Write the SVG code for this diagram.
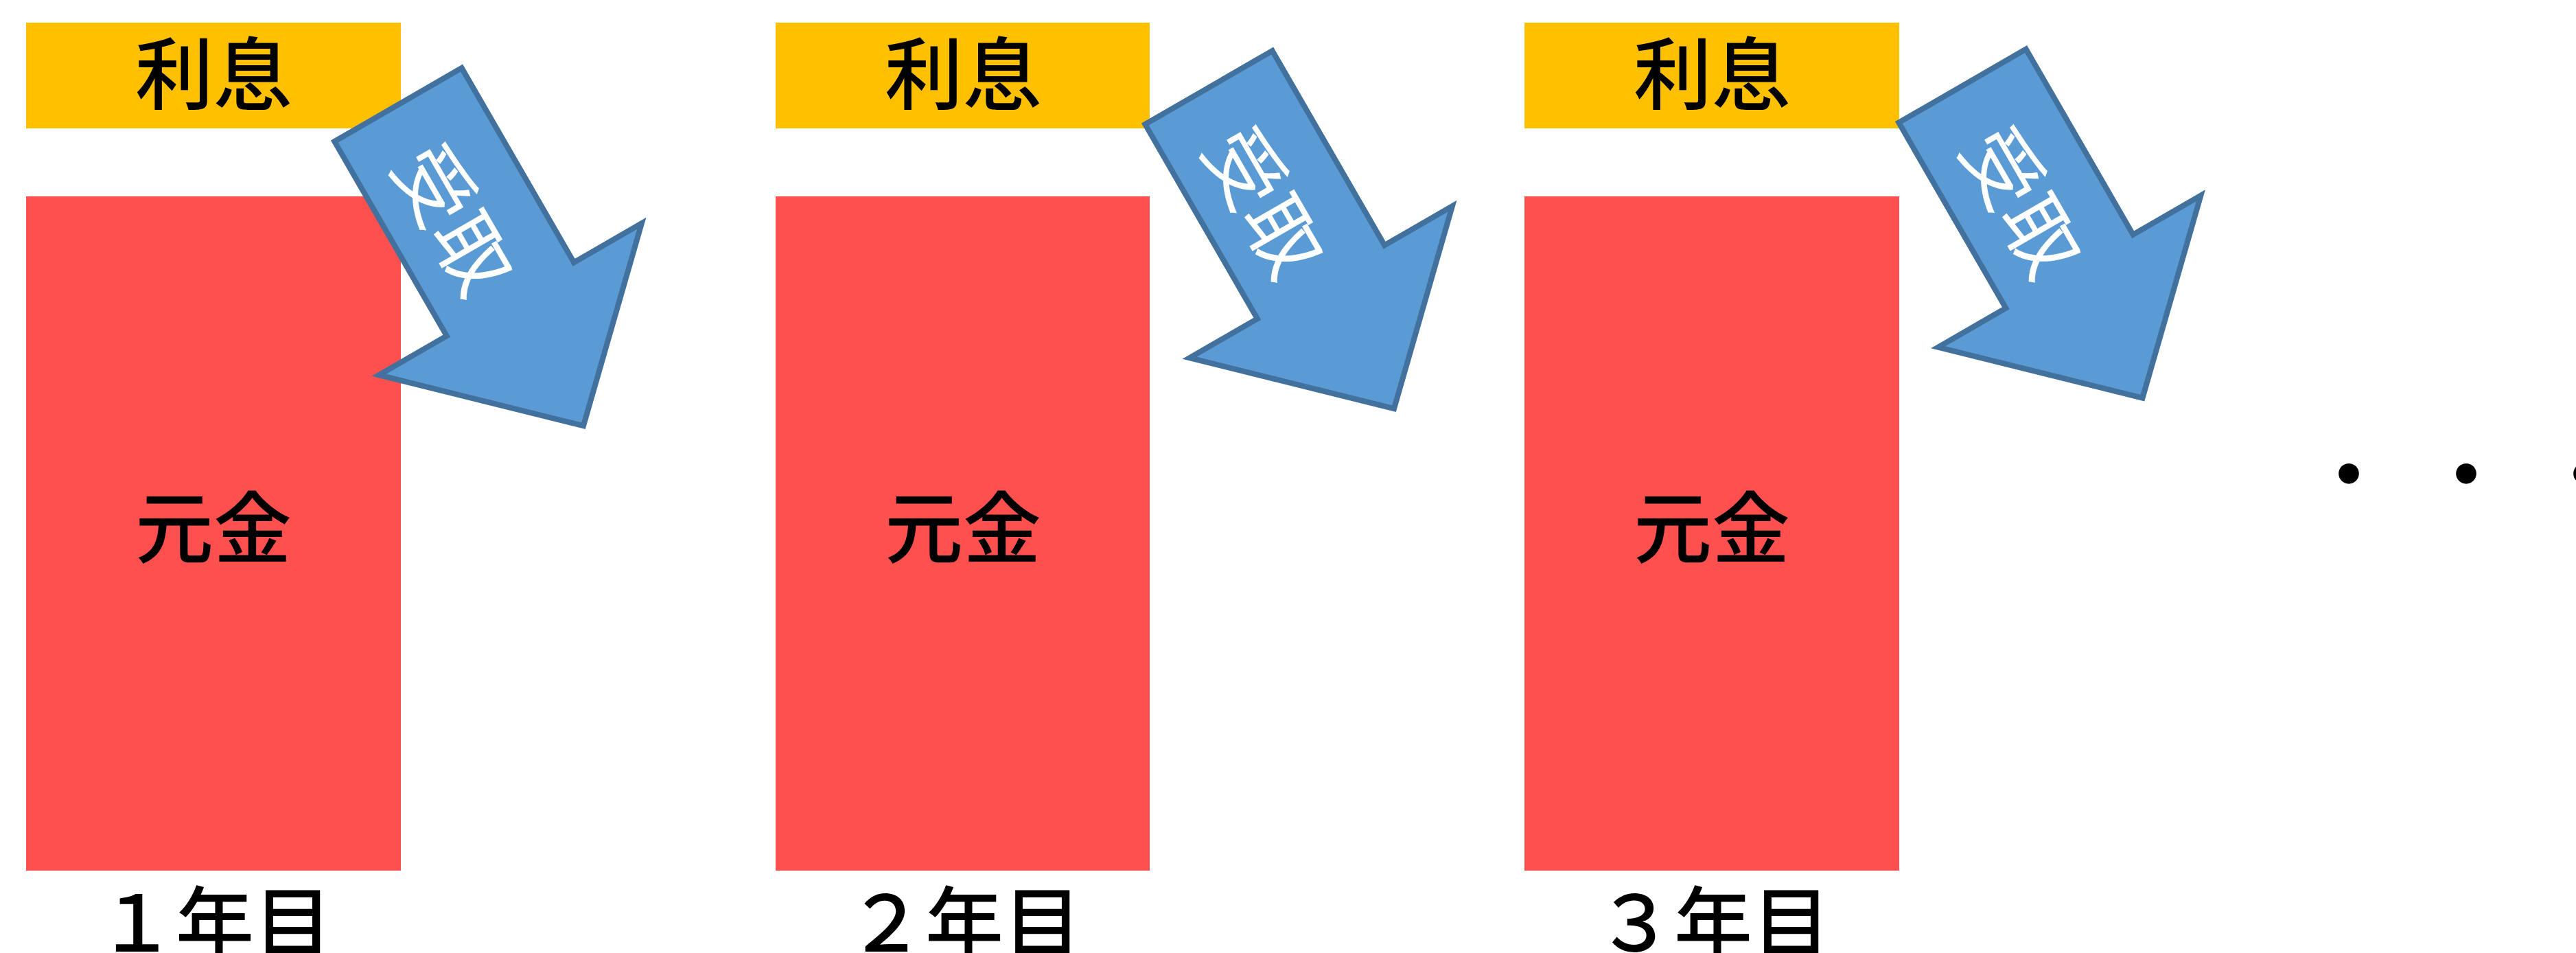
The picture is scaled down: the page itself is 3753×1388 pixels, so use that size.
<svg xmlns="http://www.w3.org/2000/svg" width="3753" height="1388" viewBox="0 0 3753 1388">
<style>
.jp{font-family:"Noto Sans CJK JP","Noto Sans CJK SC",sans-serif;font-size:114px;text-anchor:middle}
.blk{fill:#000;font-weight:500}
.wht{fill:#fff;font-weight:400}
.int{fill:#FFC000}
.prn{fill:#FF5050}
.arw{fill:#5B9BD5;stroke:#41719C;stroke-width:8;stroke-linejoin:miter}
.dots{font-family:"Noto Sans CJK JP",sans-serif;font-size:140px;letter-spacing:31px;fill:#000}
</style>
<rect width="3753" height="1388" fill="#fff"/>
<g id="year1">
<rect class="int" x="38" y="33" width="546" height="154"/>
<text class="jp blk" x="311" y="150">利息</text>
<rect class="prn" x="38" y="286" width="546" height="982"/>
<text class="jp blk" x="311" y="811">元金</text>
<text class="jp blk" x="313" y="1386">１年目</text>
</g>
<g id="year2">
<rect class="int" x="1130" y="33" width="545" height="154"/>
<text class="jp blk" x="1403" y="150">利息</text>
<rect class="prn" x="1130" y="286" width="545" height="982"/>
<text class="jp blk" x="1403" y="811">元金</text>
<text class="jp blk" x="1405" y="1386">２年目</text>
</g>
<g id="year3">
<rect class="int" x="2221" y="33" width="546" height="154"/>
<text class="jp blk" x="2494" y="150">利息</text>
<rect class="prn" x="2221" y="286" width="546" height="982"/>
<text class="jp blk" x="2494" y="811">元金</text>
<text class="jp blk" x="2496" y="1386">３年目</text>
</g>
<g id="connectors">
<g id="arrow1" transform="translate(580,152.5) rotate(-30)">
<path class="arw" d="M-107,0 L107,0 L107,327 L221,327 L0,540 L-221,327 L-107,327 Z"/>
<g transform="translate(-12,185) rotate(90)"><text class="jp wht" x="0" y="43">受取</text></g>
</g>
<g id="arrow2" transform="translate(1761,127.5) rotate(-30)">
<path class="arw" d="M-107,0 L107,0 L107,327 L221,327 L0,540 L-221,327 L-107,327 Z"/>
<g transform="translate(-12,185) rotate(90)"><text class="jp wht" x="0" y="43">受取</text></g>
</g>
<g id="arrow3" transform="translate(2859,125) rotate(-30)">
<path class="arw" d="M-107,0 L107,0 L107,312 L221,312 L0,525 L-221,312 L-107,312 Z"/>
<g transform="translate(-8,190) rotate(90)"><text class="jp wht" x="0" y="43">受取</text></g>
</g>
</g>
<g id="ellipsis">
<text class="dots" x="3352" y="743">・・・</text>
</g>
</svg>
